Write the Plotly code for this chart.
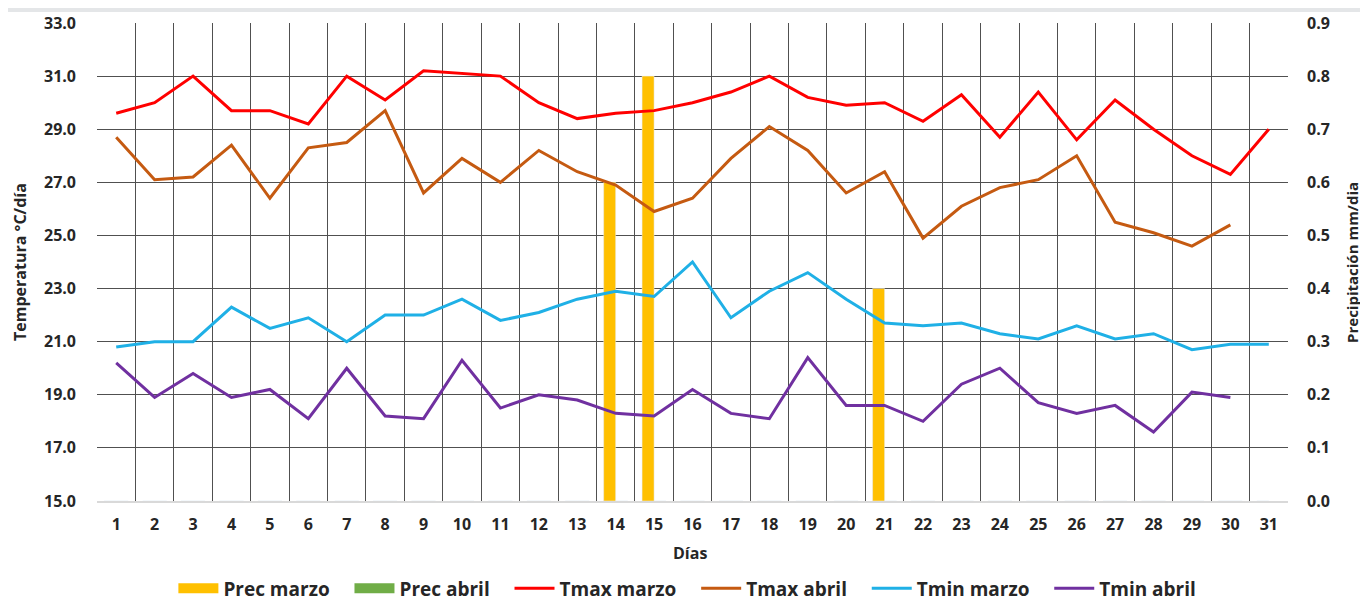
import plotly.graph_objects as go

# datos diarios
dias = [str(d) for d in range(1, 32)]

prec_marzo = [0, 0, 0, 0, 0, 0, 0, 0, 0, 0, 0, 0, 0, 0.6, 0.8, 0, 0, 0, 0, 0, 0.4,
              0, 0, 0, 0, 0, 0, 0, 0, 0, 0]
prec_abril = [0, 0, 0, 0, 0, 0, 0, 0, 0, 0, 0, 0, 0, 0, 0, 0, 0, 0, 0, 0, 0,
              0, 0, 0, 0, 0, 0, 0, 0, 0, None]

tmax_marzo = [29.6, 30.0, 31.0, 29.7, 29.7, 29.2, 31.0, 30.1, 31.2, 31.1, 31.0,
              30.0, 29.4, 29.6, 29.7, 30.0, 30.4, 31.0, 30.2, 29.9, 30.0,
              29.3, 30.3, 28.7, 30.4, 28.6, 30.1, 29.0, 28.0, 27.3, 29.0]
tmax_abril = [28.7, 27.1, 27.2, 28.4, 26.4, 28.3, 28.5, 29.7, 26.6, 27.9, 27.0,
              28.2, 27.4, 26.9, 25.9, 26.4, 27.9, 29.1, 28.2, 26.6, 27.4,
              24.9, 26.1, 26.8, 27.1, 28.0, 25.5, 25.1, 24.6, 25.4, None]
tmin_marzo = [20.8, 21.0, 21.0, 22.3, 21.5, 21.9, 21.0, 22.0, 22.0, 22.6, 21.8,
              22.1, 22.6, 22.9, 22.7, 24.0, 21.9, 22.9, 23.6, 22.6, 21.7,
              21.6, 21.7, 21.3, 21.1, 21.6, 21.1, 21.3, 20.7, 20.9, 20.9]
tmin_abril = [20.2, 18.9, 19.8, 18.9, 19.2, 18.1, 20.0, 18.2, 18.1, 20.3, 18.5,
              19.0, 18.8, 18.3, 18.2, 19.2, 18.3, 18.1, 20.4, 18.6, 18.6,
              18.0, 19.4, 20.0, 18.7, 18.3, 18.6, 17.6, 19.1, 18.9, None]

temp_ticks = [15, 17, 19, 21, 23, 25, 27, 29, 31, 33]
prec_ticks = [0.0, 0.1, 0.2, 0.3, 0.4, 0.5, 0.6, 0.7, 0.8, 0.9]

FONT = "Open Sans"
TXT = "#262626"
tick_font = dict(family=FONT, size=16, color=TXT, weight="bold")
title_font = dict(family=FONT, size=16, color=TXT, weight="bold")
SP = "\u00a0\u00a0\u00a0"  # separación extra entre entradas de la leyenda

fig = go.Figure()

# barras de precipitación (eje y, a la derecha); leyenda aparte con símbolo ancho
barras = [("Prec marzo", prec_marzo, "#FFC000"), ("Prec abril", prec_abril, "#70AD47")]
for nombre, vals, col in barras:
    fig.add_trace(go.Bar(x=dias, y=vals, name=nombre, marker_color=col,
                         yaxis="y", showlegend=False, legendgroup=nombre))

# entradas de leyenda para las barras (rectángulo ancho como en Excel)
for nombre, vals, col in barras:
    fig.add_trace(go.Scatter(x=[None], y=[None], name=nombre + SP, mode="lines",
                             line=dict(color=col, width=13), yaxis="y2",
                             legendgroup=nombre))

# temperaturas (eje y2, a la izquierda, encima de las barras)
lineas = [
    ("Tmax marzo", tmax_marzo, "#FF0000"),
    ("Tmax abril", tmax_abril, "#C55A11"),
    ("Tmin marzo", tmin_marzo, "#1FB0E6"),
    ("Tmin abril", tmin_abril, "#7030A0"),
]
for nombre, vals, col in lineas:
    fig.add_trace(go.Scatter(x=dias, y=vals, name=nombre + SP, mode="lines",
                             line=dict(color=col, width=3), yaxis="y2"))

fig.update_layout(
    width=1368, height=611,
    margin=dict(l=89, r=88, t=15, b=104),
    paper_bgcolor="white", plot_bgcolor="white",
    barmode="group", bargap=0.375, bargroupgap=0,
    font=dict(family=FONT, color=TXT),
    xaxis=dict(
        type="category", tickson="boundaries", ticks="", range=[-0.5, 30.5],
        showgrid=True, gridcolor="#505050", gridwidth=1.4,
        showline=True, linecolor="#d9d9d9", linewidth=1.5,
        tickfont=tick_font, ticklabelstandoff=8, automargin=False,
    ),
    yaxis=dict(
        side="right", range=[0, 0.9], tickvals=prec_ticks,
        ticktext=[f"{v:.1f}" for v in prec_ticks],
        showgrid=True, gridcolor="#505050", gridwidth=1.4, zeroline=False,
        tickfont=tick_font, ticklabelstandoff=18, automargin=False,
    ),
    yaxis2=dict(
        side="left", overlaying="y", range=[15, 33], tickvals=temp_ticks,
        ticktext=[f"{v:.1f}" for v in temp_ticks],
        showgrid=False, zeroline=False,
        tickfont=tick_font, ticklabelstandoff=20, automargin=False,
    ),
    legend=dict(
        orientation="h", x=0.502, xanchor="center", y=-0.183, yanchor="middle",
        font=dict(family=FONT, size=19, color=TXT, weight="bold"),
        traceorder="normal", itemwidth=40,
    ),
    annotations=[
        dict(text="Días", xref="paper", yref="paper", x=0.498, y=-0.109,
             showarrow=False, font=title_font, xanchor="center", yanchor="middle"),
        dict(text="Temperatura °C/día", xref="paper", yref="paper", x=-0.0647, y=0.5,
             showarrow=False, font=title_font, textangle=-90,
             xanchor="center", yanchor="middle"),
        dict(text="Precipitación mm/dia", xref="paper", yref="paper", x=1.0537, y=0.5,
             showarrow=False, font=dict(family=FONT, size=15, color=TXT, weight="bold"),
             textangle=-90, xanchor="center", yanchor="middle"),
    ],
    shapes=[
        # franja de fondo superior (textura gris clara)
        dict(type="rect", xref="paper", yref="paper", x0=-0.1, x1=1.1,
             y0=1 + 11 / 476, y1=1.06, fillcolor="#e4e6e8", line_width=0, layer="below"),
    ],
)

fig.write_html("out.html")
